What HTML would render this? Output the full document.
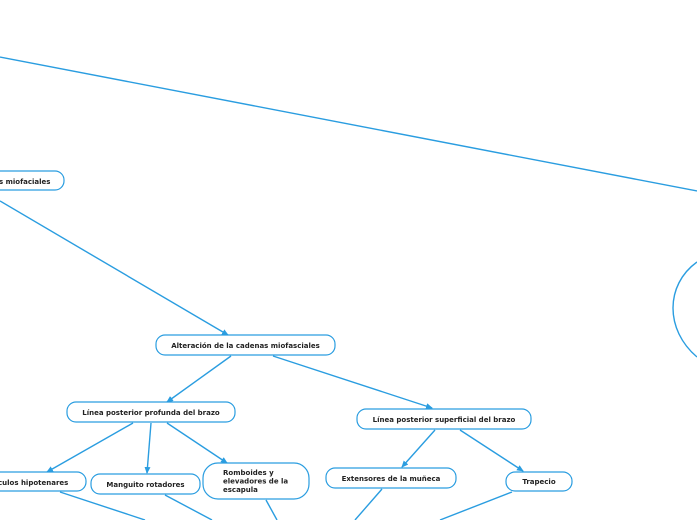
<!DOCTYPE html>
<html><head><meta charset="utf-8"><style>
html,body{margin:0;padding:0;background:#fff;width:697px;height:520px;overflow:hidden}
svg text{font-family:"DejaVu Sans","Liberation Sans",sans-serif;font-size:7px;font-weight:bold;fill:#222}
</style></head><body>
<svg width="697" height="520" viewBox="0 0 697 520" xmlns="http://www.w3.org/2000/svg">
<defs><marker id="a" markerWidth="8" markerHeight="8" refX="6" refY="3" orient="auto" markerUnits="userSpaceOnUse"><path d="M0,0 L7,3 L0,6 Z" fill="#2a9de0"/></marker></defs>
<g stroke="#2a9de0" stroke-width="1.4" fill="none">
<line x1="0" y1="57" x2="697" y2="191"/>
<path d="M697,262 C665,285 665,330 697,357"/>
<line x1="0" y1="201" x2="228" y2="335" marker-end="url(#a)"/>
<line x1="231" y1="356" x2="167" y2="402" marker-end="url(#a)"/>
<line x1="273" y1="356" x2="432" y2="408" marker-end="url(#a)"/>
<line x1="133" y1="423" x2="47" y2="472" marker-end="url(#a)"/>
<line x1="151" y1="423" x2="147" y2="473" marker-end="url(#a)"/>
<line x1="167" y1="423" x2="227" y2="463" marker-end="url(#a)"/>
<line x1="435" y1="430" x2="402" y2="467" marker-end="url(#a)"/>
<line x1="460" y1="430" x2="523" y2="471" marker-end="url(#a)"/>
<line x1="60" y1="492" x2="145" y2="520"/>
<line x1="165" y1="495" x2="212" y2="520"/>
<line x1="266" y1="500" x2="277" y2="520"/>
<line x1="382" y1="489" x2="355" y2="520"/>
<line x1="512" y1="492" x2="440" y2="520"/>
</g>
<g stroke="#2a9de0" stroke-width="1.2" fill="#fff">
<rect x="-100" y="171" width="164" height="19" rx="9"/>
<rect x="156" y="335" width="179" height="20" rx="9"/>
<rect x="67" y="402" width="168" height="20" rx="9"/>
<rect x="357" y="409" width="174" height="20" rx="9"/>
<rect x="-100" y="472" width="186" height="19" rx="9"/>
<rect x="91" y="474" width="109" height="20" rx="9"/>
<rect x="203" y="463" width="106" height="36" rx="15"/>
<rect x="326" y="468" width="130" height="20" rx="9"/>
<rect x="506" y="472" width="66" height="19" rx="9"/>
</g>
<text x="-1" y="184">s miofaciales</text>
<text x="245.5" y="348" text-anchor="middle">Alteración de la cadenas miofasciales</text>
<text x="151" y="415" text-anchor="middle">Línea posterior profunda del brazo</text>
<text x="444" y="422" text-anchor="middle">Línea posterior superficial del brazo</text>
<text x="-2" y="485">culos hipotenares</text>
<text x="145.5" y="487" text-anchor="middle">Manguito rotadores</text>
<text x="223" y="475">Romboides y</text>
<text x="223" y="483.5">elevadores de la</text>
<text x="223" y="492">escapula</text>
<text x="391" y="481" text-anchor="middle">Extensores de la muñeca</text>
<text x="539" y="484" text-anchor="middle">Trapecio</text>
</svg>
</body></html>
